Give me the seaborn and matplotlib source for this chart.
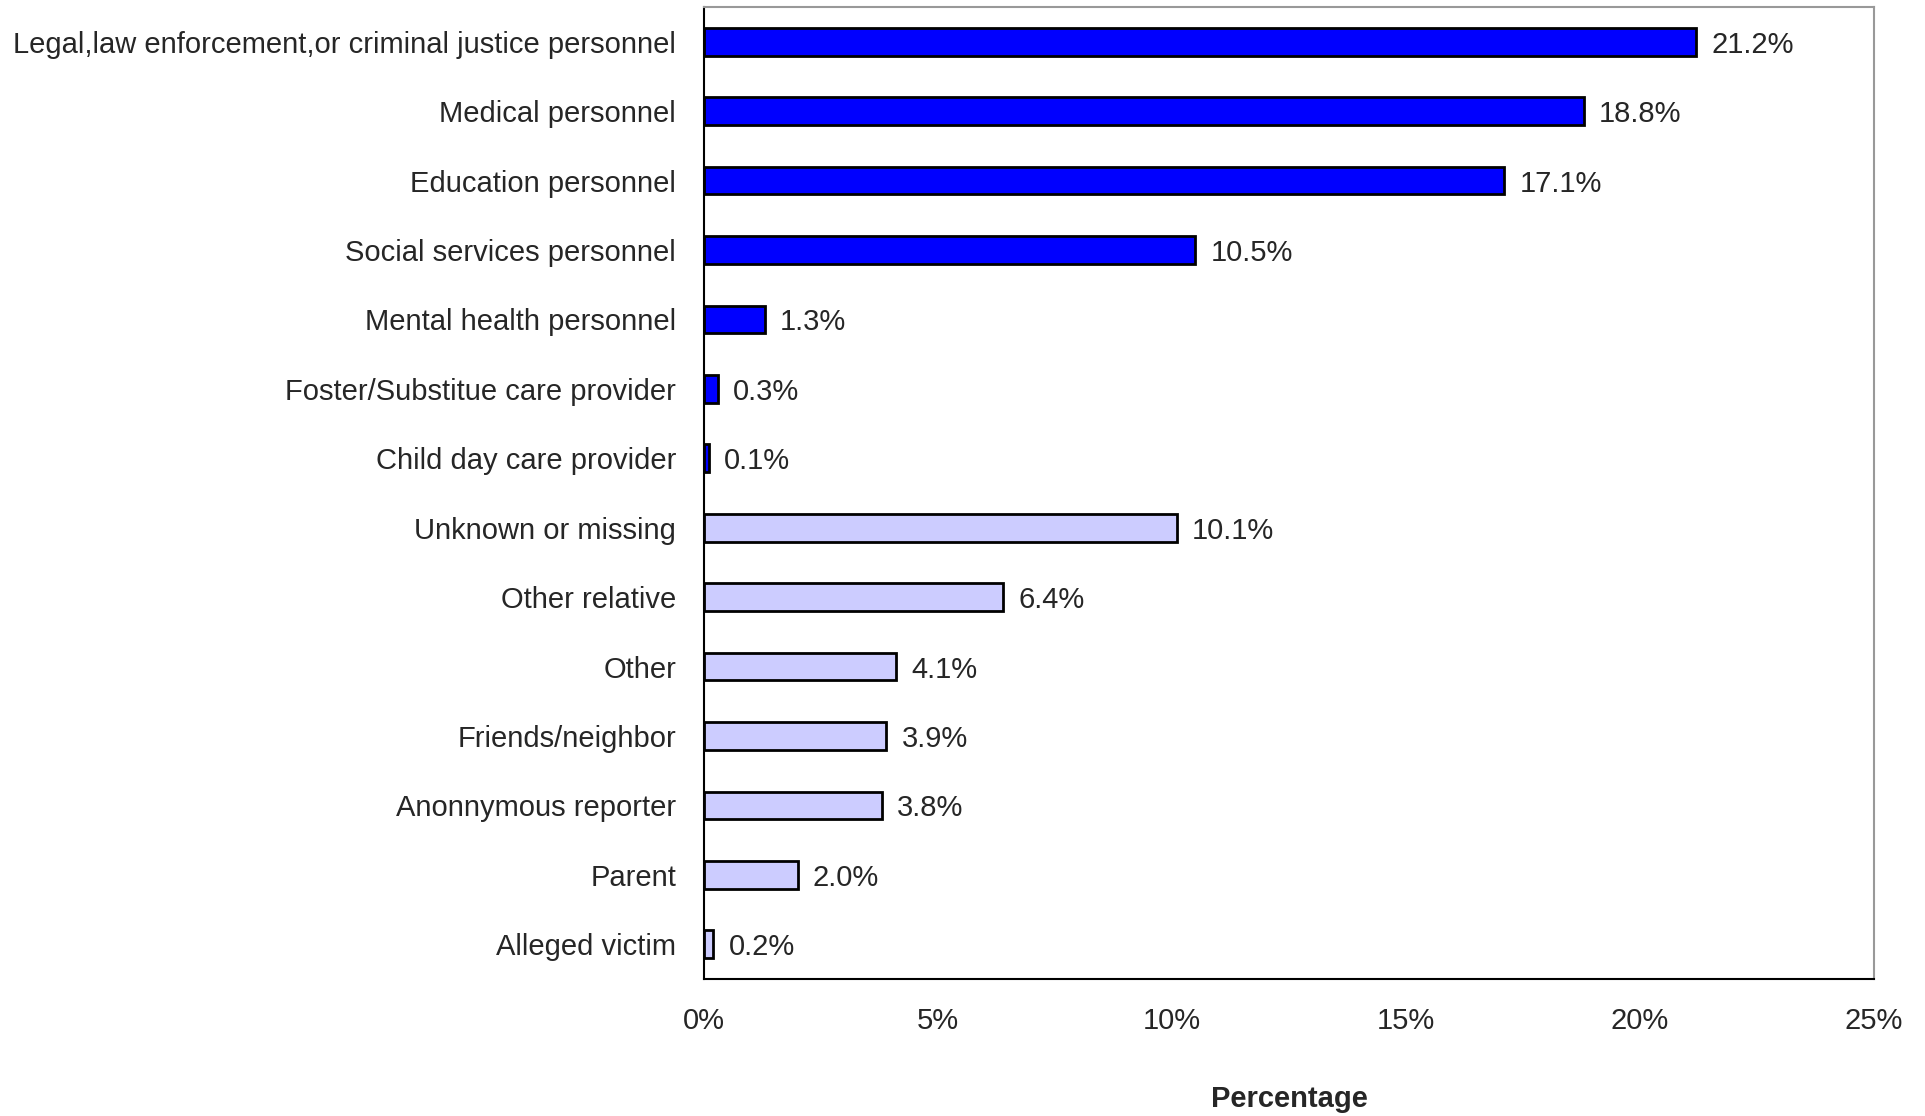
import pandas as pd
import matplotlib
matplotlib.use("Agg")
import matplotlib.pyplot as plt
import seaborn as sns

categories = [
    "Legal,law enforcement,or criminal justice personnel",
    "Medical personnel",
    "Education personnel",
    "Social services personnel",
    "Mental health personnel",
    "Foster/Substitue care provider",
    "Child day care provider",
    "Unknown or missing",
    "Other relative",
    "Other",
    "Friends/neighbor",
    "Anonnymous reporter",
    "Parent",
    "Alleged victim",
]
values = [21.2, 18.8, 17.1, 10.5, 1.3, 0.3, 0.1, 10.1, 6.4, 4.1, 3.9, 3.8, 2.0, 0.2]
groups = ["Professional"] * 7 + ["Nonprofessional"] * 7
x_ticks = [0, 5, 10, 15, 20, 25]

df = pd.DataFrame({"source": categories, "pct": values, "group": groups})

sns.set_theme(style="white")
plt.rcParams["font.family"] = ["Liberation Sans", "DejaVu Sans"]

fig = plt.figure(figsize=(19.25, 11.16), dpi=100)
ax = fig.add_axes([0.3657, 0.1228, 0.6078, 0.8709])

sns.barplot(
    data=df,
    y="source",
    x="pct",
    hue="group",
    palette={"Professional": "#0000FF", "Nonprofessional": "#CCCCFF"},
    saturation=1,
    dodge=False,
    width=0.4,
    edgecolor="black",
    linewidth=2,
    legend=False,
    ax=ax,
)

for c in ax.containers:
    texts = ax.bar_label(c, labels=[f"{v:.1f}%" for v in c.datavalues],
                         padding=11, fontsize=21)
    for t in texts:
        t.set_va("center_baseline")

ax.set_xlim(0, 25)
ax.set_ylim(len(categories) - 0.5, -0.5)
ax.set_xticks(x_ticks)
ax.set_xticklabels([f"{t}%" for t in x_ticks], fontsize=21)
ax.tick_params(axis="x", direction="in", length=9, color="#808080", pad=20)
ax.tick_params(axis="y", length=0, pad=20, labelsize=21)
ax.set_ylabel("")
ax.set_xlabel("Percentage", fontsize=21, fontweight="bold", labelpad=36)

for side in ["left", "bottom"]:
    ax.spines[side].set_color("black")
    ax.spines[side].set_linewidth(1.5)
for side in ["top", "right"]:
    ax.spines[side].set_color("#999999")
    ax.spines[side].set_linewidth(1.5)

fig.savefig("out.png", dpi=100)
